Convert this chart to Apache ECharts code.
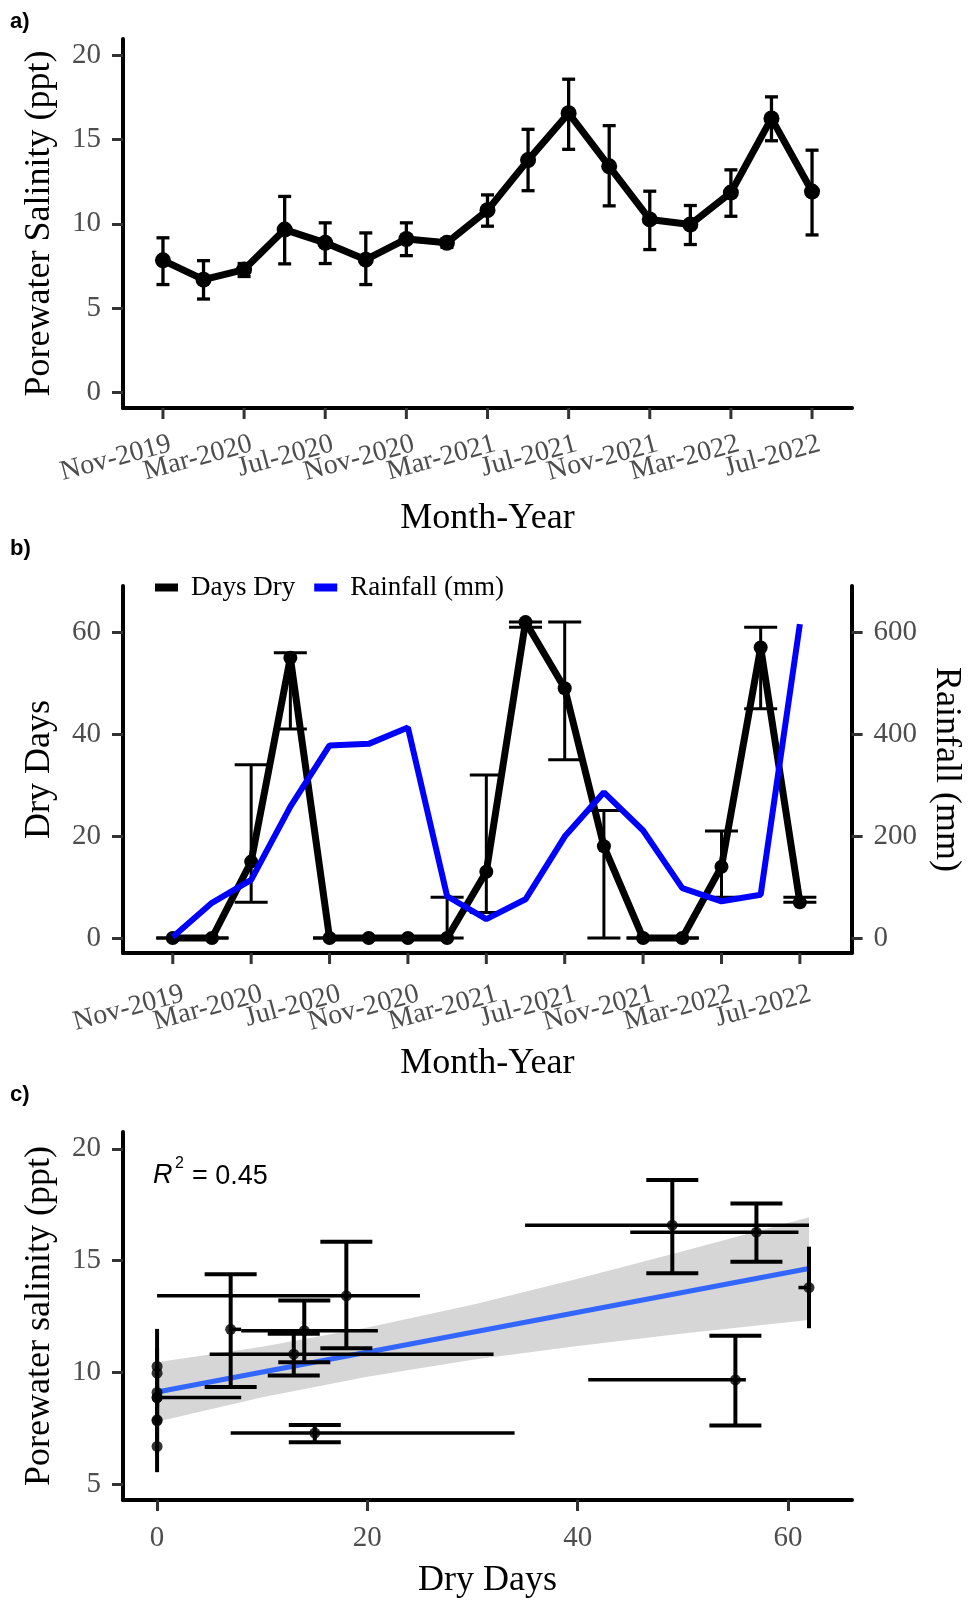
<!DOCTYPE html>
<html>
<head>
<meta charset="utf-8">
<title>Porewater salinity, dry days and rainfall</title>
<script src="https://cdn.jsdelivr.net/npm/echarts@6/dist/echarts.min.js"></script>
<style>
html, body { margin: 0; padding: 0; background: #fff; }
#main { width: 972px; height: 1600px; }
</style>
</head>
<body>
<div id="main"></div>
<script>
// months counted from Nov-2019, one sampling every two months
const monthIndex = [0, 2, 4, 6, 8, 10, 12, 14, 16, 18, 20, 22, 24, 26, 28, 30, 32];
const monthNames = ['Nov-2019', 'Jan-2020', 'Mar-2020', 'May-2020', 'Jul-2020', 'Sep-2020', 'Nov-2020', 'Jan-2021',
  'Mar-2021', 'May-2021', 'Jul-2021', 'Sep-2021', 'Nov-2021', 'Jan-2022', 'Mar-2022', 'May-2022', 'Jul-2022'];
const tickMonths = [0, 4, 8, 12, 16, 20, 24, 28, 32];
const tickLabels = ['Nov-2019', 'Mar-2020', 'Jul-2020', 'Nov-2020', 'Mar-2021', 'Jul-2021', 'Nov-2021', 'Mar-2022', 'Jul-2022'];

// a) porewater salinity (ppt)
const salinity = [7.83, 6.68, 7.28, 9.66, 8.87, 7.87, 9.10, 8.87, 10.81, 13.79, 16.58, 13.42, 10.26, 9.96, 11.86, 16.27, 11.92];
const salinityLo = [6.39, 5.53, 6.87, 7.62, 7.64, 6.39, 8.11, 8.60, 9.86, 11.97, 14.43, 11.07, 8.47, 8.77, 10.45, 14.94, 9.34];
const salinityHi = [9.17, 7.81, 7.64, 11.63, 10.06, 9.46, 10.06, 9.10, 11.72, 15.62, 18.60, 15.84, 11.94, 11.09, 13.21, 17.55, 14.38];

// b) dry days and rainfall
const dryDays = [0, 0, 15, 55, 0, 0, 0, 0, 13, 62, 49, 18, 0, 0, 14, 57, 7];
const dryLo = [0, 0, 7, 41, 0, 0, 0, 0, 5, 61, 35, 0, 0, 0, 8, 45, 7];
const dryHi = [0, 0, 34, 56, 0, 0, 0, 8, 32, 62, 62, 25, 0, 0, 21, 61, 8];
const rainfall = [2, 69, 114, 258, 378, 381, 413, 82, 37, 76, 199, 286, 211, 98, 72, 85, 616];

// c) linear fit with its confidence band
const fitDays = [0, 62];
const fitSalinity = [9.12, 14.64];
const bandDays = [0, 10, 20, 30, 40, 50, 62];
const bandLo = [7.79, 8.88, 9.80, 10.56, 11.18, 11.73, 12.34];
const bandHi = [10.45, 11.14, 12.00, 13.02, 14.18, 15.41, 16.94];

const serif = 'Liberation Serif';
const labelGrey = '#4d4d4d';

function xAxisOf(gridIndex, min, max, name, ticks, nameGap) {
  // month axes get their ticks and slanted labels from monthTicks() below
  const own = ticks != null;
  return {
    type: 'value', gridIndex: gridIndex, min: min, max: max,
    name: name, nameLocation: 'middle', nameGap: nameGap,
    nameTextStyle: { fontFamily: serif, fontSize: 36, color: '#000' },
    axisLine: { show: true, onZero: false, lineStyle: { color: '#000', width: 4 } },
    axisTick: { show: own, length: 11, customValues: ticks || [], lineStyle: { color: '#333', width: 3 } },
    axisLabel: { show: own, customValues: ticks || [], margin: 24, fontFamily: serif, fontSize: 29, color: labelGrey },
    splitLine: { show: false }
  };
}

function yAxisOf(gridIndex, min, max, name, ticks, position) {
  return {
    type: 'value', gridIndex: gridIndex, min: min, max: max, position: position,
    name: name, nameLocation: 'middle', nameGap: position === 'right' ? 68 : 65,
    nameRotate: position === 'right' ? -90 : 90,
    nameTextStyle: { fontFamily: serif, fontSize: 36, color: '#000' },
    axisLine: { show: true, onZero: false, lineStyle: { color: '#000', width: 4 } },
    axisTick: { show: true, length: 11, customValues: ticks, lineStyle: { color: '#333', width: 3 } },
    axisLabel: { customValues: ticks, margin: 22, fontFamily: serif, fontSize: 29, color: labelGrey },
    splitLine: { show: false }
  };
}

// ticks + slanted month labels (ECharts thins overlapping labels, the original keeps all)
function monthTicks(xAxisIndex, yAxisIndex, dx, dy) {
  return {
    type: 'custom', name: 'month ticks', xAxisIndex: xAxisIndex, yAxisIndex: yAxisIndex, silent: true, clip: false,
    data: tickMonths.map((m, i) => [m, i]),
    renderItem: function (params, api) {
      const x = api.coord([api.value(0), 0])[0];
      const axisY = params.coordSys.y + params.coordSys.height;
      return {
        type: 'group',
        children: [
          { type: 'line', shape: { x1: x, y1: axisY, x2: x, y2: axisY + 11 }, style: { stroke: '#333', lineWidth: 3 } },
          {
            type: 'text', x: x + dx, y: axisY + dy, rotation: 15 * Math.PI / 180,
            style: { text: tickLabels[api.value(1)], align: 'right', verticalAlign: 'top', font: '28px "Liberation Serif"', fill: labelGrey }
          }
        ]
      };
    },
    z: 6
  };
}

// vertical error bar [x, lo, hi] with optional caps
function verticalBars(capWidth, lineWidth, capWhen) {
  return function (params, api) {
    const x = api.value(0);
    const top = api.coord([x, api.value(2)]);
    const bottom = api.coord([x, api.value(1)]);
    const style = { stroke: '#000', lineWidth: lineWidth };
    const children = [{ type: 'line', shape: { x1: top[0], y1: top[1], x2: bottom[0], y2: bottom[1] }, style: style }];
    if (!capWhen || capWhen(x)) {
      const h = capWidth / 2;
      children.push({ type: 'line', shape: { x1: top[0] - h, y1: top[1], x2: top[0] + h, y2: top[1] }, style: style });
      children.push({ type: 'line', shape: { x1: bottom[0] - h, y1: bottom[1], x2: bottom[0] + h, y2: bottom[1] }, style: style });
    }
    return { type: 'group', children: children };
  };
}

// horizontal bar [y, xlo, xhi], no caps
function horizontalBars(lineWidth) {
  return function (params, api) {
    const y = api.value(0);
    const a = api.coord([api.value(1), y]);
    const b = api.coord([api.value(2), y]);
    return { type: 'line', shape: { x1: a[0], y1: a[1], x2: b[0], y2: b[1] }, style: { stroke: '#000', lineWidth: lineWidth } };
  };
}

const chart = echarts.init(document.getElementById('main'));
chart.setOption({
  animation: false,
  backgroundColor: '#fff',
  grid: [
    { left: 123, width: 729, top: 39, height: 369 },
    { left: 123, width: 729, top: 586, height: 367 },
    { left: 123, width: 729, top: 1132, height: 368 }
  ],
  xAxis: [
    xAxisOf(0, -1.97, 33.97, 'Month-Year', null, 93),
    xAxisOf(1, -2.54, 34.64, 'Month-Year', null, 93),
    xAxisOf(2, -3.24, 66.09, 'Dry Days', [0, 20, 40, 60], 63)
  ],
  yAxis: [
    yAxisOf(0, -0.95, 20.99, 'Porewater Salinity (ppt)', [0, 5, 10, 15, 20], 'left'),
    yAxisOf(1, -2.94, 69.08, 'Dry Days', [0, 20, 40, 60], 'left'),
    yAxisOf(1, -29.4, 690.8, 'Rainfall (mm)', [0, 200, 400, 600], 'right'),
    yAxisOf(2, 4.285, 20.75, 'Porewater salinity (ppt)', [5, 10, 15, 20], 'left')
  ],
  legend: {
    data: ['Days Dry', 'Rainfall (mm)'],
    left: 150, top: 569, icon: 'rect', itemWidth: 23, itemHeight: 8, itemGap: 19,
    textStyle: { fontFamily: serif, fontSize: 27, color: '#000', padding: [0, 0, 0, 8] }
  },
  graphic: [
    { type: 'text', x: 10, y: 11, style: { text: 'a)', font: 'bold 22px "Liberation Sans"', fill: '#000' } },
    { type: 'text', x: 10, y: 538, style: { text: 'b)', font: 'bold 22px "Liberation Sans"', fill: '#000' } },
    { type: 'text', x: 10, y: 1084, style: { text: 'c)', font: 'bold 22px "Liberation Sans"', fill: '#000' } },
    { type: 'text', x: 153, y: 1162, style: { text: 'R', font: 'italic 27px "Liberation Sans"', fill: '#000' } },
    { type: 'text', x: 175, y: 1156, style: { text: '2', font: '16px "Liberation Sans"', fill: '#000' } },
    { type: 'text', x: 192, y: 1163, style: { text: '= 0.45', font: '27px "Liberation Sans"', fill: '#000' } }
  ],
  series: [
    // a)
    monthTicks(0, 0, 4, 22),
    {
      type: 'custom', name: 'salinity error', xAxisIndex: 0, yAxisIndex: 0,
      renderItem: verticalBars(13, 3.3),
      data: monthIndex.map((m, i) => [m, salinityLo[i], salinityHi[i]]), z: 3
    },
    {
      type: 'line', name: 'Porewater Salinity', xAxisIndex: 0, yAxisIndex: 0,
      data: monthIndex.map((m, i) => [m, salinity[i]]),
      symbol: 'circle', symbolSize: 16, color: '#000',
      lineStyle: { color: '#000', width: 7 }, z: 4
    },
    // b)
    monthTicks(1, 1, 7, 27),
    {
      type: 'line', name: 'Days Dry', xAxisIndex: 1, yAxisIndex: 1,
      data: monthIndex.map((m, i) => [m, dryDays[i]]),
      symbol: 'circle', symbolSize: 14, color: '#000',
      lineStyle: { color: '#000', width: 7 }, z: 3
    },
    {
      type: 'custom', name: 'dry days error', xAxisIndex: 1, yAxisIndex: 1,
      renderItem: verticalBars(33, 3),
      data: monthIndex.map((m, i) => [m, dryLo[i], dryHi[i]]), z: 4
    },
    {
      type: 'line', name: 'Rainfall (mm)', xAxisIndex: 1, yAxisIndex: 2,
      data: monthIndex.map((m, i) => [m, rainfall[i]]),
      symbol: 'none', color: '#0000ff',
      lineStyle: { color: '#0000ff', width: 6 }, z: 5
    },
    // c)
    {
      type: 'custom', name: 'confidence band', xAxisIndex: 2, yAxisIndex: 3,
      data: [[bandDays[0], bandLo[0]]],
      renderItem: function (params, api) {
        const upper = bandDays.map((d, i) => api.coord([d, bandHi[i]]));
        const lower = bandDays.map((d, i) => api.coord([d, bandLo[i]])).reverse();
        return { type: 'polygon', shape: { points: upper.concat(lower) }, style: { fill: '#d6d6d6' } };
      },
      z: 2
    },
    {
      type: 'line', name: 'fit', xAxisIndex: 2, yAxisIndex: 3,
      data: fitDays.map((d, i) => [d, fitSalinity[i]]),
      symbol: 'none', lineStyle: { color: '#3366ff', width: 5 }, z: 3
    },
    {
      type: 'custom', name: 'dry days range', xAxisIndex: 2, yAxisIndex: 3,
      renderItem: horizontalBars(3.5),
      data: salinity.map((s, i) => [s, dryLo[i], dryHi[i]]), z: 4
    },
    {
      type: 'custom', name: 'salinity range', xAxisIndex: 2, yAxisIndex: 3,
      // the source figure leaves caps off the bars sitting at the extremes of the dry-day range
      renderItem: verticalBars(52, 4, x => x > 0 && x < 60),
      data: dryDays.map((d, i) => [d, salinityLo[i], salinityHi[i]]), z: 4
    },
    {
      type: 'scatter', name: 'months', xAxisIndex: 2, yAxisIndex: 3,
      data: dryDays.map((d, i) => [d, salinity[i], monthNames[i]]),
      symbol: 'circle', symbolSize: 11, itemStyle: { color: '#000' }, z: 5
    }
  ]
});
</script>
</body>
</html>
